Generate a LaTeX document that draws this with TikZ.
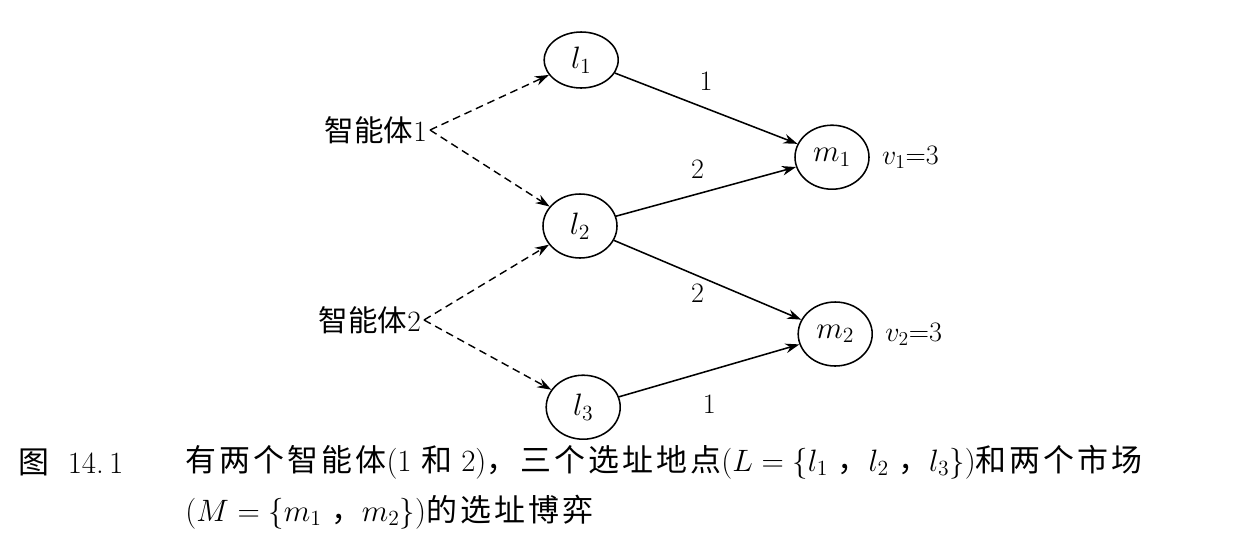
\documentclass[tikz,border=0pt]{standalone}
\usepackage{fix-cm}
\usepackage{fontspec}
\newfontfamily\cjk{Noto Sans CJK SC}
\newfontfamily\capcjk[LetterSpace=10]{Noto Sans CJK SC}
\usepackage{tikz}
\usetikzlibrary{positioning, arrows.meta, shapes.geometric}

\begin{document}
\begin{tikzpicture}[
  font=\fontsize{20}{24}\selectfont,
  loc/.style={draw, line width=1.1pt, ellipse, minimum width=1.85cm, minimum height=1.6cm, inner sep=0pt, font=\fontsize{22}{26}\selectfont},
  agent/.style={font=\fontsize{21}{25}\selectfont, inner sep=2pt},
  val/.style={inner sep=0pt},
  cost/.style={midway, inner sep=2pt},
  choose/.style={line width=1pt, dash pattern=on 5.5pt off 3.5pt, -{Stealth[length=3.5mm,width=2.4mm]}},
  move/.style={line width=1.1pt, -{Stealth[length=3.5mm,width=2.4mm]}},
  captext/.style={font=\fontsize{22}{26}\selectfont, anchor=west, inner sep=0pt}
]
\useasboundingbox (0,0) rectangle (31,-13.875);

% Locations
\node[loc, minimum height=1.4cm] (l1) at (14.53,-1.5) {$l_1$};
\node[loc] (l2) at (14.5,-5.65) {$l_2$};
\node[loc] (l3) at (14.58,-10.18) {$l_3$};

% Markets
\node[loc] (m1) at (20.8,-3.93) {$m_1$};
\node[loc] (m2) at (20.88,-8.35) {$m_2$};
\node[val] (v1) [right=0.3cm of m1] {$v_1$=3};
\node[val] (v2) [right=0.3cm of m2] {$v_2$=3};

% Agents
\node[agent, anchor=east] (a1) at (10.75,-3.25) {{\cjk 智能体}1};
\node[agent, anchor=east] (a2) at (10.6,-8.0) {{\cjk 智能体}2};

% Choices
\draw[choose] (a1.east) -- (l1);
\draw[choose] (a1.east) -- (l2);
\draw[choose] (a2.east) -- (l2);
\draw[choose] (a2.east) -- (l3);

% Costs
\draw[move] (l1) -- node[cost, above=10pt]{1} (m1);
\draw[move] (l2) -- node[cost, above=7pt, xshift=-6pt]{2} (m1);
\draw[move] (l2) -- node[cost, below left]{2} (m2);
\draw[move] (l3) -- node[cost, below=15pt]{1} (m2);

% Caption
\node[captext] (fig) at (0.45,-11.55) {{\capcjk 图}\hspace{0.6em}14.\,1};
\node[captext] (cap1) at (4.63,-11.55) {{\capcjk 有两个智能体}(1 {\capcjk 和} 2){\capcjk ，三个选址地点}($L=\{l_1$ {\capcjk ，}$l_2$ {\capcjk ，}$l_3\}$){\capcjk 和两个市场}};
\node[captext] (cap2) at (4.63,-12.8) {($M=\{m_1$ {\capcjk ，}$m_2\}$){\capcjk 的选址博弈}};

\end{tikzpicture}
\end{document}
